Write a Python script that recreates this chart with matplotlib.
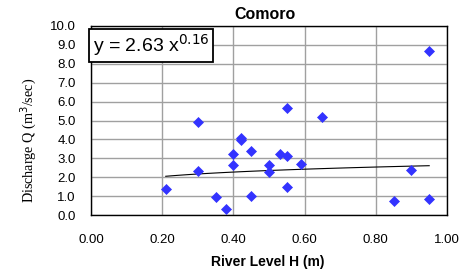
import matplotlib
matplotlib.use("Agg")
import matplotlib.pyplot as plt
import numpy as np

river_level = [0.21, 0.30, 0.30, 0.35, 0.38, 0.40, 0.40, 0.42, 0.42, 0.45, 0.45,
               0.50, 0.50, 0.53, 0.55, 0.55, 0.55, 0.59, 0.65, 0.85, 0.90, 0.95, 0.95]
discharge = [1.35, 4.9, 2.35, 0.97, 0.30, 3.22, 2.63, 4.08, 3.95, 3.37, 1.0,
             2.63, 2.30, 3.24, 5.65, 3.14, 1.50, 2.68, 5.2, 0.74, 2.36, 8.66, 0.85]
fit_coef = 2.63
fit_exp = 0.16
x_ticks = [0.0, 0.2, 0.4, 0.6, 0.8, 1.0]
y_ticks = [0, 1, 2, 3, 4, 5, 6, 7, 8, 9, 10]

W, H = 473, 275
fig = plt.figure(figsize=(W/100, H/100), dpi=100)
L, R, T, B = 91, 447, 26, 215
ax = fig.add_axes([L/W, 1-B/H, (R-L)/W, (B-T)/H])

ax.set_xlim(0, 1.0)
ax.set_ylim(0, 10)
ax.set_xticks(x_ticks)
ax.set_yticks(y_ticks)
ax.set_xticklabels([f"{v:.2f}" for v in x_ticks], fontfamily="Liberation Sans", fontsize=9.5)
ax.set_yticklabels([f"{v:.1f}" for v in y_ticks], fontfamily="Liberation Sans", fontsize=9.5)
ax.tick_params(length=0)
ax.tick_params(axis='y', pad=11)
ax.tick_params(axis='x', pad=14)
ax.grid(True, color="#a0a0a0", linewidth=1.0)
ax.set_axisbelow(True)
for s in ax.spines.values():
    s.set_color("black")
    s.set_linewidth(1.0)

xs = np.array(river_level)
xfit = np.linspace(xs.min(), xs.max(), 100)
ax.plot(xfit, fit_coef * xfit ** fit_exp, color="black", linewidth=0.8, zorder=2)
ax.plot(river_level, discharge, linestyle="none", marker="D", markersize=5.5,
        markeredgewidth=0.5, color="#3333ff", markeredgecolor="#3333ff", zorder=3)

ax.set_title("Comoro", fontfamily="Liberation Sans", fontweight="bold", fontsize=11.5, pad=5, x=0.489)
ax.set_xlabel("River Level H (m)", fontfamily="Liberation Sans", fontweight="bold", fontsize=10)
ax.xaxis.set_label_coords(0.496, -(255-B)/(B-T))
ax.set_ylabel("Discharge Q (m$^3$/sec)", fontfamily="Liberation Serif", fontsize=10.2)
ax.yaxis.set_label_coords(-(L-39)/(R-L), 1-(140.5-T)/(B-T))

ax.text(0.005, 0.897, f"y = {fit_coef} x$^{{{fit_exp}}}$", transform=ax.transAxes,
        fontfamily="Liberation Sans", fontsize=14, va="center", ha="left",
        bbox=dict(boxstyle="square,pad=0.2", facecolor="white", edgecolor="black", linewidth=1.3))

fig.savefig("out.png", dpi=100)
